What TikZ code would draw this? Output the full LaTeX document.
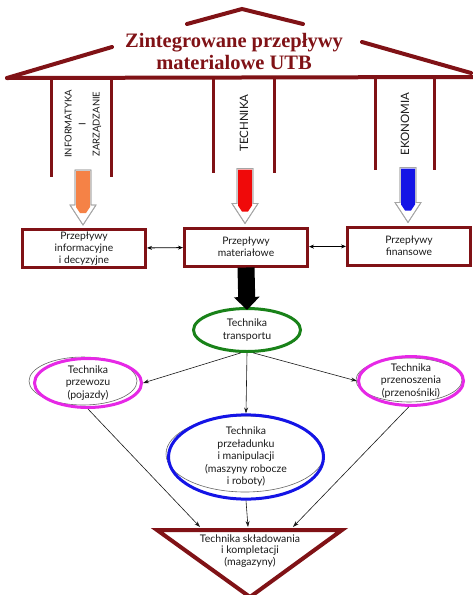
\documentclass[tikz,border=0pt]{standalone}
\usepackage{fontspec}
\setmainfont{Liberation Serif}
\newfontfamily\gillfont{Lato}
\usetikzlibrary{shapes.geometric,arrows.meta,calc}
\definecolor{maroon}{RGB}{128,18,22}
\definecolor{ggreen}{RGB}{25,130,25}
\definecolor{mmag}{RGB}{230,40,230}
\definecolor{bblue}{RGB}{20,20,230}
\definecolor{oorange}{RGB}{245,130,70}
\definecolor{rred}{RGB}{240,10,10}
\definecolor{txt}{RGB}{25,25,25}
\tikzset{
  roofline/.style={draw=maroon, line width=4pt, line cap=round},
  column/.style={draw=maroon, line width=3pt},
  flowbox/.style={draw=maroon, line width=3pt, fill=white, minimum width=123pt, minimum height=38pt, align=center, inner xsep=2pt, inner ysep=0pt, text=txt, font=\gillfont\fontsize{10.3}{12}\selectfont},
  oval/.style={ellipse, line width=3pt, align=center, inner sep=0pt, text=txt},
  vlabel/.style={rotate=90, align=center, text=txt, font=\gillfont\fontsize{9.5}{14}\selectfont},
  bigvlabel/.style={vlabel, font=\gillfont\fontsize{11.5}{14}\selectfont},
  thinarrow/.style={draw=txt, line width=0.6pt, -{Stealth[length=6pt,width=4pt]}},
  dblarrow/.style={draw=black, line width=0.8pt, {Stealth[length=5pt,width=4pt]}-{Stealth[length=5pt,width=4pt]}},
  shadowoval/.style={draw=gray!80!black, line width=0.6pt},
  headout/.style={draw=gray!70, line width=0.8pt}
}
\begin{document}
\begin{tikzpicture}[x=1pt,y=-1pt, font=\gillfont\fontsize{10.5}{12.5}\selectfont]
\useasboundingbox (0,0) rectangle (473,595);
% roof
\draw[roofline] (7,78) -- (112,47);
\draw[roofline] (187,24) -- (242,9) -- (303,24);
\draw[roofline] (362,42) -- (471,73);
\draw[roofline] (7,78) -- (473,77);
\node[font=\bfseries\fontsize{20.5}{22}\selectfont, text=maroon, align=center] (title) at (234,51) {Zintegrowane przepływy\\materialowe UTB};
% columns
\draw[column] (51,78) -- (51,177);
\draw[column] (111,78) -- (111,177);
\draw[column] (213,78) -- (213,173);
\draw[column] (274,78) -- (274,173);
\draw[column] (375,78) -- (375,170);
\draw[column] (434,78) -- (434,170);
\node[vlabel] (inf) at (83,124) {INFORMATYKA\\I\\ZARZĄDZANIE};
\node[bigvlabel] (tech) at (244,123) {TECHNIKA};
\node[bigvlabel] (eko) at (405,124) {EKONOMIA};
% boxes
\node[flowbox] (b1) at (84,248.5) {Przepływy\\informacyjne\\i decyzyjne};
\node[flowbox] (b2) at (246,247) {Przepływy\\materiałowe};
\node[flowbox] (b3) at (409,246) {Przepływy\\finansowe};
% coloured arrows
\foreach \bx/\col in {b1/oorange, b2/rred, b3/bblue}{
  \filldraw[headout, fill=white] ($(\bx.north)+(-1,-3)$) -- ++(-13,-20) -- ++(5,0) -- ++(0,-35) -- ++(16,0) -- ++(0,35) -- ++(5,0) -- cycle;
  \fill[\col] ($(\bx.north)+(-8,-57)$) -- ++(14,0) -- ++(0,36) -- ++(-4,6) -- ++(-6,0) -- ++(-4,-6) -- cycle;
  \draw[headout] ($(\bx.north)+(-1,-3)$) -- ++(-13,-20) -- ++(5,0) -- ++(0,-35) -- ++(16,0) -- ++(0,35) -- ++(5,0) -- cycle;
}
\draw[dblarrow] (b1) -- (b2);
\draw[dblarrow] (b2) -- (b3);
% ellipses
\node[oval, draw=ggreen, minimum width=107pt, minimum height=43pt] (tr) at (247,330) {Technika\\transportu};
\draw[shadowoval] (83,381) ellipse [x radius=54pt, y radius=24pt];
\node[oval, draw=mmag, minimum width=107pt, minimum height=47pt] (pl) at (88,383) {Technika\\przewozu\\(pojazdy)};
\draw[shadowoval] (409,380) ellipse [x radius=53pt, y radius=22pt];
\node[oval, draw=mmag, minimum width=105pt, minimum height=45pt] (pk) at (411,381) {Technika\\przenoszenia\\(przenośniki)};
\draw[shadowoval] (245,454) ellipse [x radius=79pt, y radius=38pt];
\node[oval, draw=bblue, minimum width=155pt, minimum height=77pt] (bl) at (246,457) {Technika\\przeładunku\\i manipulacji\\(maszyny robocze\\i roboty)};
% black arrow
\draw[line width=17pt, -{Triangle[width=25pt,length=13pt]}] (b2.south) -- ($(tr.north)+(0,3)$);
% thin arrows
\draw[thinarrow] (tr.255) -- (pl.east);
\draw[thinarrow] (tr.285) -- (pk.west);
\draw[thinarrow] (tr.south) -- (bl.north);
% triangle
\coordinate (tl) at (157,530);
\coordinate (trr) at (342,530);
\coordinate (tapex) at (250,597);
\draw[draw=maroon, line width=4pt, line join=miter, fill=white] (tl) -- (trr) -- (tapex) -- cycle;
\node[text=txt, align=center, font=\gillfont\fontsize{10.5}{11.5}\selectfont] (sk) at (250,551) {Technika składowania\\i kompletacji\\(magazyny)};
\coordinate (ta) at (200,527);
\coordinate (tb) at (248,527);
\coordinate (tc) at (293,527);
\draw[thinarrow] (pl.south) -- (ta);
\draw[thinarrow] (bl.south) -- (tb);
\draw[thinarrow] (pk.265) -- (tc);
\end{tikzpicture}
\end{document}
